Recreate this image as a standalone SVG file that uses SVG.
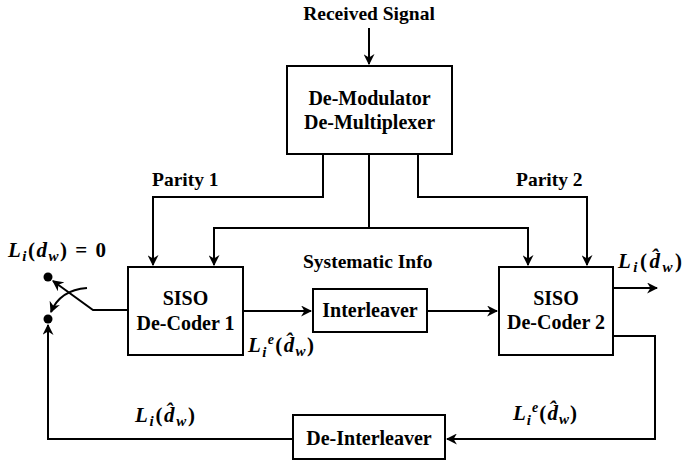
<svg xmlns="http://www.w3.org/2000/svg" width="684" height="464" viewBox="0 0 684 464">
<defs>
<marker id="ah" viewBox="0 0 10 10" refX="9" refY="5" markerWidth="5.5" markerHeight="5.5" orient="auto" markerUnits="strokeWidth">
<path d="M0,0 L10,5 L0,10 L3,5 z" fill="#000"/>
</marker>
<style>
.box{fill:#fff;stroke:#000;stroke-width:2}
.t{font-family:"Liberation Serif","Times New Roman",serif;font-weight:bold;font-size:20px;text-anchor:middle;fill:#000}
.lb{font-family:"Liberation Serif","Times New Roman",serif;font-weight:bold;font-size:19.5px;fill:#000}
.m{font-family:"Liberation Serif","DejaVu Serif",serif;font-weight:bold;font-style:italic;font-size:21px;fill:#000}
.up{font-style:normal}
.c{fill:none;stroke:#000;stroke-width:2}
.a{marker-end:url(#ah)}
</style>
</defs>
<rect width="684" height="464" fill="#fff"/>
<g id="connectors">
<path class="c a" d="M369,28 V64"/>
<path class="c a" d="M323,154 V197 H153 V265"/>
<path class="c a" d="M369,154 V228 H214 V265"/>
<path class="c a" d="M369,228 H528 V265"/>
<path class="c a" d="M418,154 V197 H587 V265"/>
<path class="c a" d="M243,311 H311"/>
<path class="c a" d="M427,311 H497"/>
<path class="c a" d="M613,288 H657"/>
<path class="c a" d="M613,336 H655 V439 H447"/>
<path class="c" d="M293,439 H48"/>
<path class="c a" d="M48,440 V325"/>
<path class="c a" d="M128,310 H93 L53,281"/>
<path class="c a" d="M87,288 Q60,290 51,312"/>
<circle cx="48" cy="277" r="4.5" fill="#000"/>
<circle cx="48" cy="319" r="4.5" fill="#000"/>
</g>
<g id="received">
<text class="lb" x="369" y="20" text-anchor="middle" font-size="20.5">Received Signal</text>
</g>
<g id="demod">
<rect class="box" x="287" y="66" width="165" height="88"/>
<text class="t" x="369.5" y="105" font-size="21">De-Modulator</text>
<text class="t" x="369.5" y="129" font-size="21">De-Multiplexer</text>
</g>
<g id="dec1">
<rect class="box" x="128" y="267" width="115" height="88"/>
<text class="t" x="185.5" y="305">SISO</text>
<text class="t" x="185.5" y="330">De-Coder 1</text>
</g>
<g id="interleaver">
<rect class="box" x="313" y="289" width="114" height="43"/>
<text class="t" x="370" y="317">Interleaver</text>
</g>
<g id="dec2">
<rect class="box" x="499" y="267" width="114" height="88"/>
<text class="t" x="556" y="305">SISO</text>
<text class="t" x="556" y="329">De-Coder 2</text>
</g>
<g id="deinterleaver">
<rect class="box" x="293" y="415" width="152" height="44"/>
<text class="t" x="369" y="445">De-Interleaver</text>
</g>
<g id="labels">
<text class="lb" x="152" y="186">Parity 1</text>
<text class="lb" x="516" y="186">Parity 2</text>
<text class="lb" x="303" y="268">Systematic Info</text>
<text class="m" x="8" y="257" textLength="98" lengthAdjust="spacing">L<tspan font-size="15" dy="4">i</tspan><tspan class="up" dy="-4">(</tspan>d<tspan font-size="15" dy="4">w</tspan><tspan class="up" dy="-4">) = 0</tspan></text>
<text class="m" x="618" y="268" textLength="64" lengthAdjust="spacing">L<tspan font-size="15" dy="4">i</tspan><tspan class="up" dy="-4">(</tspan>d̂<tspan font-size="15" dy="4">w</tspan><tspan class="up" dy="-4">)</tspan></text>
<text class="m" x="248" y="352" textLength="66" lengthAdjust="spacing">L<tspan font-size="15" dy="5">i</tspan><tspan font-size="14" dy="-13">e</tspan><tspan class="up" dy="8">(</tspan>d̂<tspan font-size="15" dy="4">w</tspan><tspan class="up" dy="-4">)</tspan></text>
<text class="m" x="513" y="420" textLength="64" lengthAdjust="spacing">L<tspan font-size="15" dy="5">i</tspan><tspan font-size="14" dy="-13">e</tspan><tspan class="up" dy="8">(</tspan>d̂<tspan font-size="15" dy="4">w</tspan><tspan class="up" dy="-4">)</tspan></text>
<text class="m" x="135" y="422" textLength="60" lengthAdjust="spacing">L<tspan font-size="15" dy="4">i</tspan><tspan class="up" dy="-4">(</tspan>d̂<tspan font-size="15" dy="4">w</tspan><tspan class="up" dy="-4">)</tspan></text>
</g>
</svg>
